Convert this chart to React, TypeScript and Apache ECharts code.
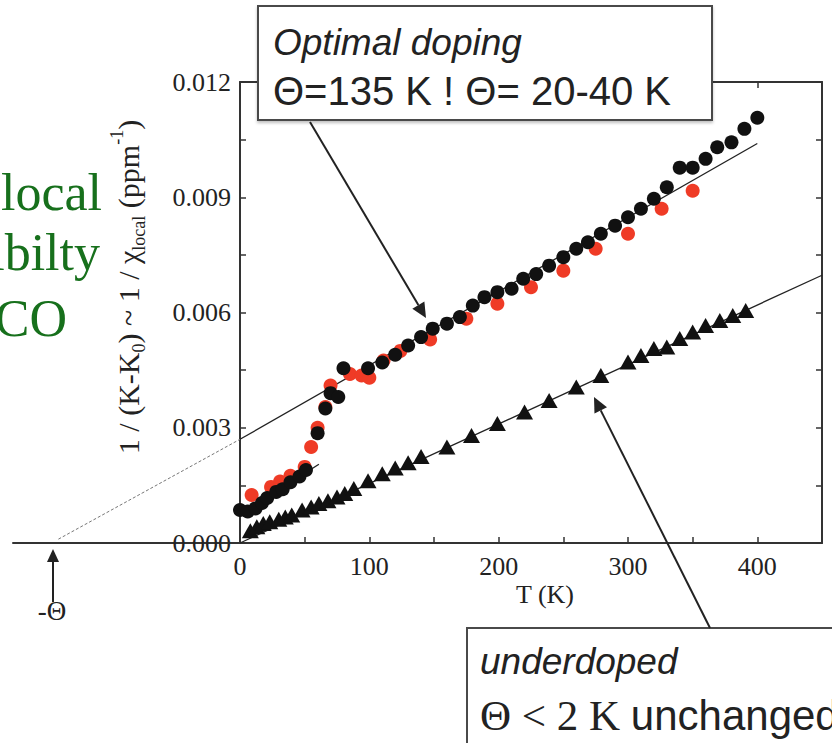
import React, { useEffect, useRef } from "react";
import * as echarts from "echarts";

// ---- data (T in K, value in ppm^-1) ----
const optimalBlack: [number, number][] = [
  [0, 0.00086], [6, 0.00082], [12, 0.0009], [17, 0.00104], [21, 0.00117],
  [28, 0.00133], [33, 0.0014], [39, 0.00158], [46, 0.00173], [51, 0.0019],
  [60, 0.00286], [66, 0.0035], [70, 0.0039], [76, 0.0038], [80, 0.00455],
  [99, 0.00455], [110, 0.0047], [120, 0.0049], [130, 0.00514], [140, 0.00536],
  [149, 0.00558], [160, 0.00571], [170, 0.00588], [180, 0.00618], [189, 0.0064],
  [199, 0.00653], [210, 0.00662], [219, 0.00688], [229, 0.007], [239, 0.00722],
  [250, 0.00744], [260, 0.00766], [269, 0.00783], [279, 0.00805], [290, 0.00826],
  [300, 0.00848], [310, 0.0087], [320, 0.00896], [330, 0.00926], [340, 0.00977],
  [350, 0.00977], [360, 0.01], [369, 0.0103], [380, 0.01043], [390, 0.01078],
  [400, 0.01107],
];
const optimalRed: [number, number][] = [
  [9, 0.00125], [24, 0.00146], [31, 0.0016], [39, 0.00175], [50, 0.00198],
  [55, 0.0025], [60, 0.003], [66, 0.00354], [70, 0.0041], [85, 0.0044],
  [94, 0.00436], [100, 0.0043], [111, 0.00475], [124, 0.005], [147, 0.0053],
  [175, 0.00584], [199, 0.00623], [225, 0.00666], [250, 0.00709], [275, 0.00766],
  [300, 0.00805], [326, 0.0087], [350, 0.00917],
];
const underdoped: [number, number][] = [
  [8, 0.00032], [13, 0.00042], [18, 0.00051], [23, 0.00055], [30, 0.00062],
  [35, 0.00068], [40, 0.00073], [48, 0.00086], [55, 0.00094], [61, 0.00103],
  [68, 0.0011], [75, 0.0012], [81, 0.00129], [88, 0.00142], [99, 0.00162],
  [110, 0.0018], [120, 0.00195], [130, 0.00209], [140, 0.00225], [160, 0.0025],
  [179, 0.0028], [199, 0.00311], [220, 0.00341], [239, 0.00371], [260, 0.00406],
  [279, 0.00436], [300, 0.00471], [310, 0.00488], [320, 0.00506], [330, 0.0051],
  [340, 0.00532], [350, 0.00549], [360, 0.00566], [371, 0.00579], [381, 0.00592],
  [391, 0.00605],
];
const optimalFit: [number, number][] = [[0, 0.0027], [400, 0.0104]];
const optimalExtrap: [number, number][] = [[-140, 0.0001], [0, 0.0027]];
const lowTFit: [number, number][] = [[4, 0.00082], [61, 0.00205]];
const underFit: [number, number][] = [[0, 0], [450, 0.00697]];

const xLabelValues = [0, 100, 200, 300, 400];
const xTickValues = [0, 50, 100, 150, 200, 250, 300, 350, 400];
const yLabelValues = [0, 0.003, 0.006, 0.009, 0.012];

const SERIF = "'Liberation Serif', 'Times New Roman', serif";
const SANS = "'Liberation Sans', Arial, sans-serif";
const INK = "#222";
const AX = "#333";

function arrow(x1: number, y1: number, x2: number, y2: number, head = 15, half = 7) {
  const dx = x2 - x1, dy = y2 - y1;
  const L = Math.hypot(dx, dy);
  const ux = dx / L, uy = dy / L;
  const bx = x2 - ux * head, by = y2 - uy * head;
  const px = -uy, py = ux;
  return [
    { type: "line", z: 120, shape: { x1, y1, x2: bx, y2: by }, style: { stroke: "#222", lineWidth: 2 } },
    {
      type: "polygon", z: 120,
      shape: { points: [[x2, y2], [bx + px * half, by + py * half], [bx - px * half, by - py * half]] },
      style: { fill: "#222" },
    },
  ];
}

export default function App() {
  const ref = useRef<HTMLDivElement>(null);
  useEffect(() => {
    if (!ref.current) return;
    const chart = echarts.init(ref.current, undefined, { renderer: "svg" });
    const lineS = (data: [number, number][], style: any, axisIdx = 0, z = 2) => ({
      type: "line", data, showSymbol: false, symbol: "none", silent: true, z,
      xAxisIndex: axisIdx === 0 ? 0 : 2, yAxisIndex: axisIdx === 0 ? 0 : 2,
      lineStyle: style, clip: false,
    });
    const tickStyle = { color: AX, width: 1.5 };
    chart.setOption({
      animation: false,
      backgroundColor: "#fff",
      grid: [
        { left: 240, right: 10, top: 82, bottom: 200, containLabel: false, outerBoundsMode: "none" },
        { left: 13, width: 227, top: 82, bottom: 200, containLabel: false, outerBoundsMode: "none" },
      ],
      xAxis: [
        {
          gridIndex: 0, type: "value", min: 0, max: 450, position: "bottom",
          axisLine: { show: true, onZero: false, lineStyle: { color: AX, width: 2 } },
          axisTick: { show: true, inside: true, length: 6, customValues: xTickValues, lineStyle: tickStyle },
          axisLabel: { show: true, customValues: xLabelValues, margin: 10, fontFamily: SERIF, fontSize: 26, color: INK },
          splitLine: { show: false },
        },
        {
          gridIndex: 0, type: "value", min: 0, max: 450, position: "top",
          axisLine: { show: true, onZero: false, lineStyle: { color: AX, width: 2 } },
          axisTick: { show: true, inside: true, length: 6, customValues: xTickValues, lineStyle: tickStyle },
          axisLabel: { show: false },
          splitLine: { show: false },
        },
        {
          gridIndex: 1, type: "value", min: -175, max: 0, position: "bottom",
          axisLine: { show: true, onZero: false, lineStyle: { color: AX, width: 2 } },
          axisTick: { show: false },
          axisLabel: { show: false },
          splitLine: { show: false },
        },
      ],
      yAxis: [
        {
          gridIndex: 0, type: "value", min: 0, max: 0.012, interval: 0.0015, position: "left",
          axisLine: { show: true, onZero: false, lineStyle: { color: AX, width: 2 } },
          axisTick: { show: true, inside: true, length: 6, lineStyle: tickStyle },
          axisLabel: {
            show: true, customValues: yLabelValues, margin: 9,
            formatter: (v: number) => v.toFixed(3),
            fontFamily: SERIF, fontSize: 26, color: INK,
          },
          splitLine: { show: false },
        },
        {
          gridIndex: 0, type: "value", min: 0, max: 0.012, interval: 0.0015, position: "right",
          axisLine: { show: true, onZero: false, lineStyle: { color: AX, width: 2 } },
          axisTick: { show: true, inside: true, length: 6, lineStyle: tickStyle },
          axisLabel: { show: false },
          splitLine: { show: false },
        },
        {
          gridIndex: 1, type: "value", min: 0, max: 0.012, show: false,
          splitLine: { show: false },
        },
      ],
      series: [
        lineS(optimalExtrap, { color: "#777", width: 1, type: [3, 2] }, 1),
        lineS(optimalFit, { color: "#222", width: 1.3 }),
        lineS(lowTFit, { color: "#222", width: 1.3 }),
        lineS(underFit, { color: "#222", width: 1.3 }),
        {
          type: "scatter", data: optimalRed, symbol: "circle", symbolSize: 14, z: 3,
          xAxisIndex: 0, yAxisIndex: 0,
          itemStyle: { color: "#ef3b26", opacity: 1 }, silent: true,
        },
        {
          type: "scatter", data: optimalBlack, symbol: "circle", symbolSize: 14, z: 4,
          xAxisIndex: 0, yAxisIndex: 0,
          itemStyle: { color: "#111", opacity: 1 }, silent: true,
        },
        {
          type: "scatter", data: underdoped, symbol: "triangle", symbolSize: [17, 15], z: 4,
          xAxisIndex: 0, yAxisIndex: 0,
          itemStyle: { color: "#111", opacity: 1 }, silent: true,
        },
      ],
      graphic: [
        // y-axis title
        {
          type: "text", x: 128, y: 287, rotation: Math.PI / 2, z: 110,
          style: {
            text: "{m|1 / (K-K}{s|0}{m|) ~ 1 / χ}{s|local}{m| (ppm}{p|-1}{m|)}",
            align: "center", verticalAlign: "middle", fill: INK,
            rich: {
              m: { fontSize: 30, fontFamily: SERIF, fill: INK, lineHeight: 40, verticalAlign: "middle" },
              s: { fontSize: 18, fontFamily: SERIF, fill: INK, lineHeight: 18, verticalAlign: "bottom" },
              p: { fontSize: 18, fontFamily: SERIF, fill: INK, lineHeight: 18, verticalAlign: "top" },
            },
          },
        },
        // x-axis title
        {
          type: "text", x: 545, y: 594, z: 110,
          style: { text: "T (K)", font: `26px ${SERIF}`, fill: INK, align: "center", verticalAlign: "middle" },
        },
        // green side text (clipped)
        { type: "text", x: 102, y: 192, z: 110, style: { text: "local", font: `52px ${SERIF}`, fill: "#17701c", align: "right", verticalAlign: "middle" } },
        { type: "text", x: 100, y: 252, z: 110, style: { text: "ibilty", font: `52px ${SERIF}`, fill: "#17701c", align: "right", verticalAlign: "middle" } },
        { type: "text", x: 67, y: 318, z: 110, style: { text: "CO", font: `52px ${SERIF}`, fill: "#17701c", align: "right", verticalAlign: "middle" } },
        // -Theta marker
        ...arrow(53, 602, 53, 549, 13, 6),
        { type: "text", x: 52, y: 611, z: 110, style: { text: "-Θ", font: `27px ${SERIF}`, fill: INK, align: "center", verticalAlign: "middle" } },
        // top annotation box
        {
          type: "rect", z: 115, shape: { x: 258, y: 6, width: 454, height: 114 },
          style: { fill: "#fff", stroke: "#4a4a4a", lineWidth: 2, shadowColor: "rgba(0,0,0,0.25)", shadowBlur: 3, shadowOffsetY: 2 },
        },
        { type: "text", x: 273, y: 42, z: 116, style: { text: "Optimal doping", font: `italic 37px ${SANS}`, fill: INK, align: "left", verticalAlign: "middle" } },
        { type: "text", x: 273, y: 91, z: 116, style: { text: "Θ=135 K ! Θ= 20-40 K", font: `40px ${SANS}`, fill: INK, align: "left", verticalAlign: "middle" } },
        ...arrow(310, 122, 426, 318),
        // bottom annotation box
        {
          type: "rect", z: 115, shape: { x: 467, y: 628, width: 420, height: 200 },
          style: { fill: "#fff", stroke: "#4a4a4a", lineWidth: 2 },
        },
        { type: "text", x: 480, y: 661, z: 116, style: { text: "underdoped", font: `italic 37px ${SANS}`, fill: INK, align: "left", verticalAlign: "middle" } },
        {
          type: "text", x: 480, y: 715, z: 116,
          style: {
            text: "{a|Θ < 2 K }{b|unchanged}", align: "left", verticalAlign: "middle", fill: INK,
            rich: {
              a: { fontFamily: SERIF, fontSize: 43, fill: INK },
              b: { fontFamily: SANS, fontSize: 42, fill: INK },
            },
          },
        },
        ...arrow(710, 628, 594, 397),
      ],
    });
    return () => chart.dispose();
  }, []);
  return (
    <div
      ref={ref}
      style={{ position: "fixed", left: 0, top: 0, width: 832, height: 743, background: "#fff" }}
    />
  );
}
